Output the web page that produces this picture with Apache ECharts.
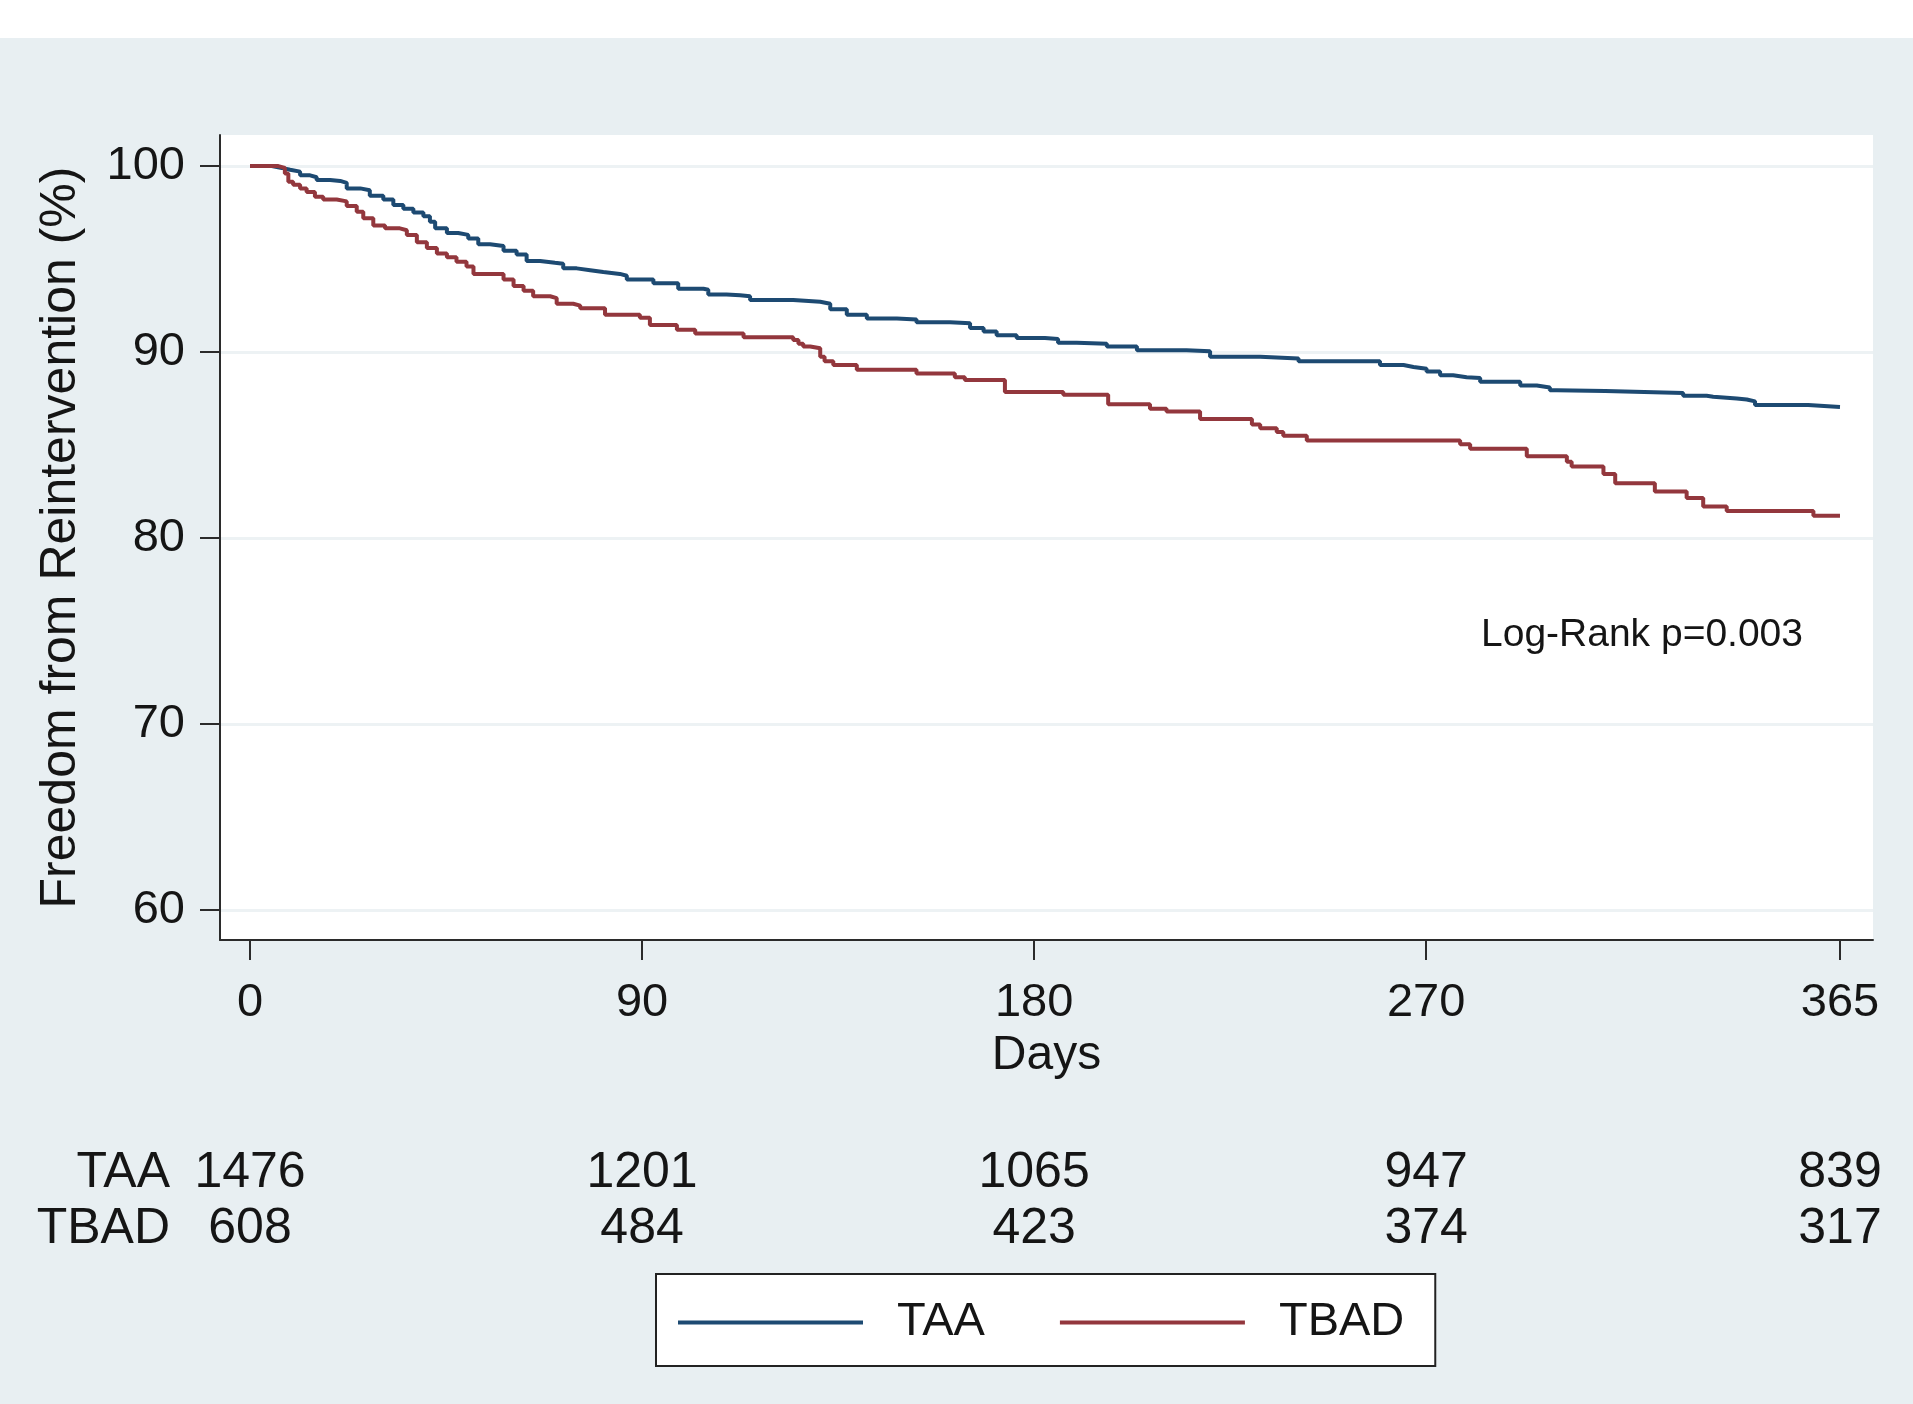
<!DOCTYPE html>
<html>
<head>
<meta charset="utf-8">
<script src="https://cdn.jsdelivr.net/npm/echarts@6/dist/echarts.min.js"></script>
<style>
  html, body { margin: 0; padding: 0; background: #e8eff2; }
  #main { width: 1913px; height: 1404px; }
</style>
</head>
<body>
<div id="main"></div>
<script>
// axis ticks
var dayTicks = [0, 90, 180, 270, 365];
var pctTicks = [60, 70, 80, 90, 100];
var groups = ['TAA', 'TBAD'];

// Kaplan-Meier curves, [day, freedom %]
var taaCurve = [
  [0, 100], [5, 99.9], [7.3, 99.8], [9.2, 99.7], [11.5, 99.5], [13.8, 99.4], [15.3, 99.25],
  [18.4, 99.2], [20.7, 99.1], [22.2, 98.8], [25.3, 98.7], [27.5, 98.4], [30.6, 98.2],
  [32.9, 97.9], [35.2, 97.7], [37.5, 97.5], [39.8, 97.3], [41.3, 97.0], [42.5, 96.65],
  [45.2, 96.4], [47.8, 96.3], [50.1, 96.1], [52.4, 95.8], [55.1, 95.7], [58.2, 95.45],
  [61.2, 95.25], [63.5, 94.9], [66.6, 94.8], [70, 94.75], [71.9, 94.5], [75, 94.4],
  [78.1, 94.3], [81.1, 94.2], [84.9, 94.1], [86.5, 93.9], [92.6, 93.7], [98.3, 93.4],
  [104.1, 93.35], [105.2, 93.1], [109.4, 93.05], [112.5, 93.0], [114.8, 92.8], [124.7, 92.7],
  [130.9, 92.6], [133.2, 92.3], [137, 92.0], [141.6, 91.8], [148.5, 91.75], [153, 91.6],
  [160.7, 91.55], [165.3, 91.3], [168.4, 91.1], [171.4, 90.9], [176, 90.75], [182.5, 90.7],
  [185.5, 90.5], [189.8, 90.45], [196.7, 90.3], [203.6, 90.1], [215, 90.05], [220.4, 89.75],
  [231.9, 89.65], [240.7, 89.5], [259.4, 89.3], [264.8, 89.2], [267.1, 89.1], [270.1, 88.95],
  [273.2, 88.75], [276.2, 88.65], [279.3, 88.6], [282.4, 88.4], [291.6, 88.2], [295.4, 88.1],
  [298.4, 87.95], [300, 87.9], [311.1, 87.8], [329, 87.65], [334.4, 87.6], [335.9, 87.5],
  [341.3, 87.45], [343.6, 87.35], [345.5, 87.15], [357.7, 87.05], [365, 87.05]
];
var tbadCurve = [
  [0, 100], [6.5, 99.9], [8, 99.6], [8.8, 99.15], [9.9, 99.0], [11.5, 98.8], [13, 98.6],
  [14.9, 98.35], [16.8, 98.2], [19.9, 98.1], [22.2, 97.85], [24.5, 97.55], [26, 97.2],
  [28.3, 96.8], [31, 96.65], [34.4, 96.55], [36, 96.3], [38.3, 95.9], [40.6, 95.6],
  [42.9, 95.3], [45.2, 95.1], [47.4, 94.85], [49.7, 94.6], [51.3, 94.2], [58.2, 93.9],
  [60.5, 93.55], [62.8, 93.3], [65, 93.0], [68.9, 92.9], [70.4, 92.6], [74.2, 92.5],
  [75.8, 92.35], [81.5, 92.0], [89.5, 91.85], [91.8, 91.45], [98, 91.2], [102.2, 91.0],
  [113.3, 90.8], [124.7, 90.65], [125.9, 90.45], [127, 90.3], [128.6, 90.2], [130.9, 89.75],
  [131.9, 89.5], [133.9, 89.3], [139.3, 89.05], [153, 88.85], [161.8, 88.65], [164.1, 88.5],
  [173.3, 87.85], [186.7, 87.7], [197, 87.2], [206.6, 86.95], [210.4, 86.8], [218.1, 86.4],
  [230, 86.1], [231.9, 85.9], [235.7, 85.7], [237.2, 85.5], [242.6, 85.25], [277.8, 85.05],
  [280.1, 84.8], [293.1, 84.4], [302.3, 84.1], [303.4, 83.85], [310.7, 83.45], [313.4, 82.95],
  [322.5, 82.5], [329.8, 82.15], [333.6, 81.7], [339, 81.45], [358.9, 81.2], [365, 81.2]
];

// numbers at risk at each day tick
var atRiskTAA = [1476, 1201, 1065, 947, 839];
var atRiskTBAD = [608, 484, 423, 374, 317];

var fontFamily = '"Liberation Sans", Arial, sans-serif';
var textColor = '#151515';
var xMin = -6.89, xMax = 372.58;

function riskRow(counts, row) {
  return counts.map(function (n, j) { return [dayTicks[j], row, n]; });
}

var chart = echarts.init(document.getElementById('main'));

var option = {
  animation: false,
  backgroundColor: '#e8eff2',
  textStyle: { fontFamily: fontFamily },
  graphic: [
    { type: 'rect', left: 0, top: 0, shape: { width: 1913, height: 38 }, style: { fill: '#ffffff' } },
    {
      type: 'text', left: 1481, top: 616,
      style: { text: 'Log-Rank p=0.003', fontSize: 39, fontFamily: fontFamily, fill: textColor }
    }
  ],
  legend: {
    data: groups,
    left: 656,
    top: 1274,
    padding: [25, 31, 20, 22],
    itemWidth: 185,
    itemHeight: 4,
    itemGap: 75,
    icon: 'rect',
    backgroundColor: '#ffffff',
    borderColor: '#222222',
    borderWidth: 2,
    textStyle: { fontSize: 47, color: textColor, fontFamily: fontFamily, padding: [0, 0, 0, 29] }
  },
  grid: [
    { left: 220, right: 40, top: 135, bottom: 464, show: true, backgroundColor: '#ffffff', borderWidth: 0 },
    { left: 220, right: 40, top: 1145, height: 112 }
  ],
  xAxis: [
    {
      type: 'value', gridIndex: 0, min: xMin, max: xMax,
      name: 'Days', nameLocation: 'middle', nameGap: 90,
      nameTextStyle: { fontSize: 48, color: textColor },
      axisLine: { show: true, onZero: false, lineStyle: { color: '#2b2b2b', width: 2 } },
      axisTick: { show: true, length: 20, customValues: dayTicks, lineStyle: { color: '#2b2b2b', width: 2 } },
      axisLabel: { customValues: dayTicks, fontSize: 47, color: textColor, margin: 40 },
      splitLine: { show: false }
    },
    { type: 'value', gridIndex: 1, min: xMin, max: xMax, show: false }
  ],
  yAxis: [
    {
      type: 'value', gridIndex: 0, min: 58.39, max: 101.67,
      name: 'Freedom from Reintervention (%)', nameLocation: 'middle', nameGap: 134, nameRotate: 90,
      nameTextStyle: { fontSize: 50, color: textColor },
      axisLine: { show: true, onZero: false, lineStyle: { color: '#2b2b2b', width: 2 } },
      axisTick: { show: true, length: 20, customValues: pctTicks, lineStyle: { color: '#2b2b2b', width: 2 } },
      axisLabel: { customValues: pctTicks, fontSize: 47, color: textColor, margin: 35 },
      splitLine: { show: true, lineStyle: { color: '#edf2f4', width: 3 } }
    },
    {
      type: 'category', gridIndex: 1, data: groups, inverse: true,
      axisLine: { show: false }, axisTick: { show: false }, splitLine: { show: false },
      axisLabel: { interval: 0, fontSize: 50, color: textColor, margin: 50 }
    }
  ],
  series: [
    {
      name: 'TAA', type: 'line', step: 'end', data: taaCurve,
      xAxisIndex: 0, yAxisIndex: 0, symbol: 'none',
      lineStyle: { color: '#1d4a72', width: 4 }, itemStyle: { color: '#1d4a72' }
    },
    {
      name: 'TBAD', type: 'line', step: 'end', data: tbadCurve,
      xAxisIndex: 0, yAxisIndex: 0, symbol: 'none',
      lineStyle: { color: '#93373d', width: 4 }, itemStyle: { color: '#93373d' }
    },
    {
      name: 'at risk', type: 'scatter', xAxisIndex: 1, yAxisIndex: 1,
      data: riskRow(atRiskTAA, 0).concat(riskRow(atRiskTBAD, 1)),
      symbolSize: 0, silent: true,
      itemStyle: { opacity: 1 },
      label: {
        show: true, position: 'inside', fontSize: 50, color: textColor, opacity: 1,
        formatter: function (p) { return p.value[2]; }
      }
    }
  ]
};

chart.setOption(option);
</script>
</body>
</html>
